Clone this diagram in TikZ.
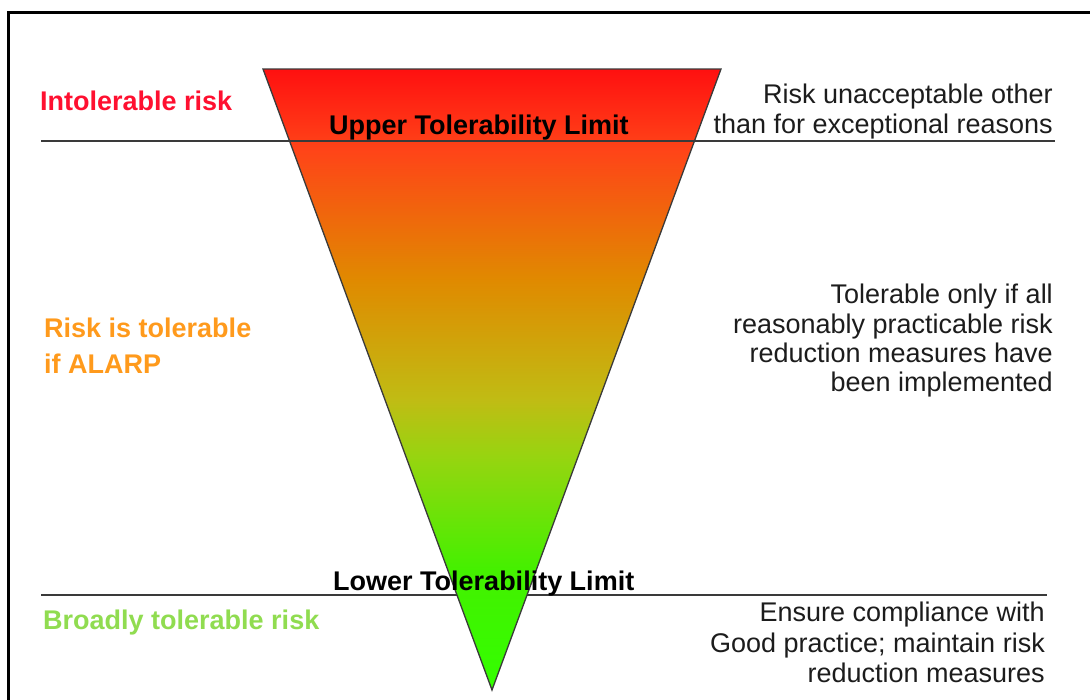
\documentclass[tikz,border=0pt]{standalone}
\usepackage{fontspec}
\setmainfont{Liberation Sans}
\definecolor{cTop}{HTML}{FF1010}
\definecolor{cA}{HTML}{FF4418}
\definecolor{cB}{HTML}{E08A00}
\definecolor{cC}{HTML}{C0BC14}
\definecolor{cD}{HTML}{98D410}
\definecolor{cE}{HTML}{44F000}
\definecolor{cBot}{HTML}{33FF00}
\definecolor{redtxt}{HTML}{FF1030}
\definecolor{orangetxt}{HTML}{FF9A1C}
\definecolor{greentxt}{HTML}{90DC50}
\definecolor{bodytxt}{HTML}{1C1C1C}
\definecolor{rulecol}{HTML}{3A3A3A}
\pgfdeclareverticalshading{riskshade}{100bp}{%
  color(0bp)=(cBot); color(25bp)=(cBot); color(34.66bp)=(cE);
  color(43.9bp)=(cD); color(48.35bp)=(cC); color(58bp)=(cB);
  color(68.48bp)=(cA); color(75bp)=(cTop); color(100bp)=(cTop)}
\tikzset{
  zonelabel/.style={font=\fontsize{27}{30}\selectfont\bfseries, inner sep=0pt},
  limitlabel/.style={font=\fontsize{27}{30}\selectfont\bfseries, text=black, inner sep=0pt},
  desc/.style={font=\fontsize{27}{30}\selectfont, text=bodytxt, inner sep=0pt, anchor=base east},
  separator/.style={draw=rulecol, line width=1.5pt},
}
\begin{document}
\begin{tikzpicture}[x=1pt,y=-1pt]
\useasboundingbox (0,0) rectangle (1090,699);
% frame
\coordinate (fTR) at (1092,12);
\coordinate (fTL) at (8,12);
\coordinate (fBL) at (8,701);
\draw[line width=3pt] (fTR) -- (fTL) -- (fBL);
% lower separator (behind triangle)
\coordinate (lowL) at (41,595);
\coordinate (lowR) at (1047,595);
\draw[separator] (lowL) -- (lowR);
% triangle
\coordinate (tL) at (263,69);
\coordinate (tR) at (721,69);
\coordinate (tB) at (492,690);
\shade[shading=riskshade] (tL) -- (tR) -- (tB) -- cycle;
\draw[draw=rulecol, line width=1.3pt, line join=miter] (tL) -- (tR) -- (tB) -- cycle;
% upper separator (over triangle)
\coordinate (upL) at (41,141);
\coordinate (upR) at (1055,141);
\draw[separator] (upL) -- (upR);
% left zone labels
\node[zonelabel, text=redtxt, anchor=base west] (intol) at (40,110) {Intolerable risk};
\node[zonelabel, text=orangetxt, anchor=base west] (alarp1) at (44,337) {Risk is tolerable};
\node[zonelabel, text=orangetxt, anchor=base west] (alarp2) at (44,373) {if ALARP};
\node[zonelabel, text=greentxt, anchor=base west] (broad) at (43,629) {Broadly tolerable risk};
% limits
\node[limitlabel, anchor=base west] (upper) at (329,134) {Upper Tolerability Limit};
\node[limitlabel, anchor=base west] (lower) at (333,590) {Lower Tolerability Limit};
% right descriptions
\node[desc] (d1a) at (1053,103) {Risk unacceptable other};
\node[desc] (d1b) at (1053,133) {than for exceptional reasons};
\node[desc] (d2a) at (1053,303) {Tolerable only if all};
\node[desc] (d2b) at (1053,333) {reasonably practicable risk};
\node[desc] (d2c) at (1053,362) {reduction measures have};
\node[desc] (d2d) at (1053,391) {been implemented};
\node[desc] (d3a) at (1045,621) {Ensure compliance with};
\node[desc] (d3b) at (1045,652) {Good practice; maintain risk};
\node[desc] (d3c) at (1045,682) {reduction measures};
\end{tikzpicture}
\end{document}
